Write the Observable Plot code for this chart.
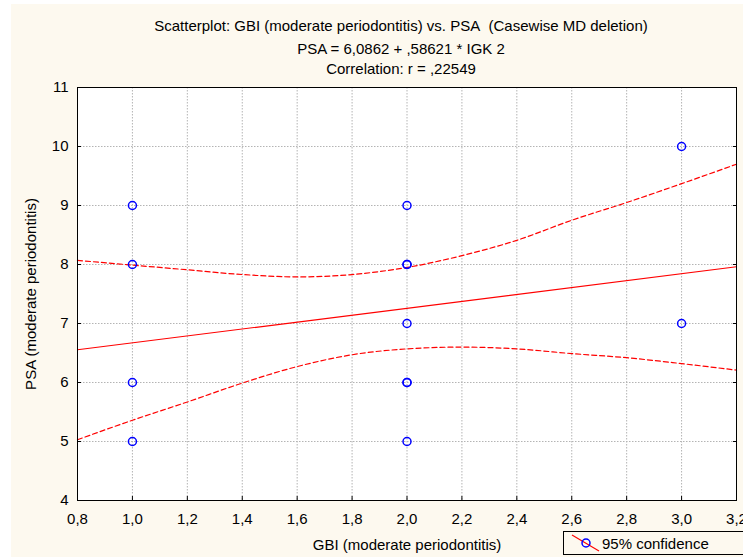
<!DOCTYPE html>
<html><head><meta charset="utf-8">
<script src="https://cdn.jsdelivr.net/npm/d3@7"></script>
<script src="https://cdn.jsdelivr.net/npm/@observablehq/plot@0.6"></script>
<style>
body{margin:0;background:#ffffff;font-family:"Liberation Sans",Arial,sans-serif;}
#wrap{position:relative;width:743px;height:559px;overflow:hidden;background:#ffffff;}
#panel{position:absolute;left:11px;top:4px;width:740px;height:553px;background:#fdf9ef;}
.t{position:absolute;left:0;width:802px;text-align:center;font-size:15px;line-height:17px;color:#000;white-space:nowrap;}
#chart{position:absolute;left:0;top:0;}
#legend{position:absolute;left:563px;top:531px;width:200px;height:24px;border:1px solid #000;font-size:15px;line-height:17px;box-sizing:border-box;}
#legend span{position:absolute;left:38px;top:3px;}
</style></head>
<body>
<div id="wrap">
<div id="panel"></div>
<div id="chart"></div>
<div class="t" style="top:17px">Scatterplot: GBI (moderate periodontitis) vs. PSA&nbsp; (Casewise MD deletion)</div>
<div class="t" style="top:40px">PSA = 6,0862 + ,58621 * IGK 2</div>
<div class="t" style="top:60px">Correlation: r = ,22549</div>
<div id="legend"><svg width="36" height="22" style="position:absolute;left:0;top:0"><line x1="8" y1="3" x2="35" y2="19" stroke="#ff0000" stroke-width="1.2"/><circle cx="22" cy="11" r="4" fill="none" stroke="#0000ff" stroke-width="1.5"/></svg><span>95% confidence</span></div>
</div>
<script>
// observed points
const gbi = [1, 1, 1, 1, 2, 2, 2, 2, 2, 2, 2, 3, 3];
const psa = [9, 8, 6, 5, 9, 8, 8, 7, 6, 6, 5, 10, 7];
// regression line endpoints (PSA = 6,0862 + ,58621 * GBI)
const fitX = [0.8, 3.2];
const fitY = [6.555, 7.962];
// 95% confidence band
const bandX = [0.8, 1.0, 1.2, 1.4, 1.6, 1.8, 2.0, 2.2, 2.4, 2.6, 2.8, 3.0, 3.2];
const bandUpper = [8.07, 7.99, 7.91, 7.83, 7.79, 7.83, 7.95, 8.15, 8.41, 8.75, 9.05, 9.37, 9.70];
const bandLower = [5.03, 5.36, 5.67, 5.99, 6.27, 6.47, 6.57, 6.60, 6.57, 6.49, 6.42, 6.32, 6.21];
// ticks
const xTicks = [0.8, 1.0, 1.2, 1.4, 1.6, 1.8, 2.0, 2.2, 2.4, 2.6, 2.8, 3.0, 3.2];
const yTicks = [4, 5, 6, 7, 8, 9, 10, 11];

const points = gbi.map((x, i) => ({x, y: psa[i]}));
const fit = fitX.map((x, i) => ({x, y: fitY[i]}));
const upper = bandX.map((x, i) => ({x, y: bandUpper[i]}));
const lower = bandX.map((x, i) => ({x, y: bandLower[i]}));
const fmt = d => d3.format(".1f")(d).replace(".", ",");
const grid = {stroke: "#b4b4b4", strokeOpacity: 1, strokeDasharray: "1.5,1.5"};

const chart = Plot.plot({
  width: 743, height: 559,
  marginLeft: 77, marginRight: 7, marginTop: 87, marginBottom: 59,
  style: {background: "transparent", fontFamily: "Liberation Sans, Arial, sans-serif", fontSize: "15px", color: "#000", overflow: "visible"},
  x: {domain: [0.8, 3.2]},
  y: {domain: [4, 11]},
  marks: [
    Plot.frame({fill: "white", stroke: null}),
    Plot.gridX(xTicks, grid),
    Plot.gridY(yTicks, grid),
    Plot.line(upper, {x: "x", y: "y", stroke: "#ff0000", strokeWidth: 1.2, strokeDasharray: "5,3", curve: "monotone-x"}),
    Plot.line(lower, {x: "x", y: "y", stroke: "#ff0000", strokeWidth: 1.2, strokeDasharray: "5,3", curve: "monotone-x"}),
    Plot.line(fit, {x: "x", y: "y", stroke: "#ff0000", strokeWidth: 1.2}),
    Plot.dot(points, {x: "x", y: "y", r: 4, stroke: "#0000ff", strokeWidth: 1.5, fill: "none"}),
    Plot.axisX(xTicks, {tickFormat: fmt, tickSize: -4, tickPadding: 17, fontSize: 15, label: "GBI (moderate periodontitis)", labelAnchor: "center", labelArrow: "none", labelOffset: 49}),
    Plot.axisY(yTicks, {tickFormat: d => String(d), tickSize: -4, tickPadding: 13, fontSize: 15, label: "PSA (moderate periodontitis)", labelAnchor: "center", labelArrow: "none", labelOffset: 52}),
    Plot.axisY(yTicks, {anchor: "right", tickFormat: () => "", tickSize: -4, label: null}),
    Plot.frame({stroke: "#000", strokeWidth: 1})
  ]
});
document.getElementById("chart").appendChild(chart);
</script>
</body></html>
